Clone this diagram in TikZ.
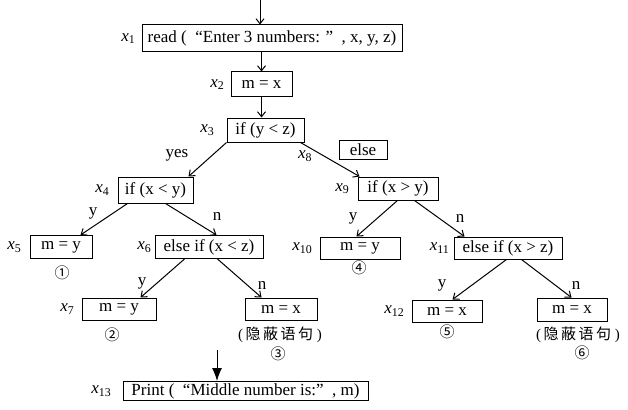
\documentclass[tikz,border=0pt]{standalone}
\usepackage{fontspec}
\setmainfont{Liberation Serif}
\newfontfamily\cjk{Noto Sans CJK SC}
\usetikzlibrary{arrows.meta}
\newcommand{\vx}[1]{\textit{x}\textsubscript{#1}}
\newcommand{\hid}{(\,{\cjk 隐\,蔽\,语\,句}\ )}
\tikzset{
  stmt/.style={draw, line width=1pt, inner sep=0pt, minimum height=22pt, font=\fontsize{17}{19}\selectfont},
  lbl/.style={font=\fontsize{17}{19}\selectfont, inner sep=0pt},
  num/.style={font=\cjk\fontsize{15}{17}\selectfont, inner sep=0pt},
  flow/.style={-{Straight Barb[length=5pt,width=8pt]}, line width=1pt},
  bigflow/.style={-{Latex[length=13pt,width=10pt]}, line width=1pt},
}
\begin{document}
\begin{tikzpicture}[x=1pt,y=-1pt]
\useasboundingbox (0,0) rectangle (628,409);
% statements
\node[stmt, minimum width=260pt, minimum height=27pt, label={[lbl,label distance=6pt]left:\vx{1}}] (x1) at (272,38.5) {read (\ \ “Enter 3 numbers: ”\ \ , x, y, z)};
\node[stmt, minimum width=61pt, minimum height=25pt, label={[lbl,label distance=6pt]left:\vx{2}}] (x2) at (261.5,84.5) {m = x};
\node[stmt, minimum width=77pt, minimum height=24pt, label={[lbl,label distance=12pt]left:\vx{3}}] (x3) at (265.5,130) {if (y < z)};
\node[stmt, minimum width=48pt, minimum height=19pt] (else) at (363,149.5) {else};
\node[stmt, minimum width=75pt, minimum height=26pt, label={[lbl,label distance=8pt]left:\vx{4}}] (x4) at (155.5,190) {if (x < y)};
\node[stmt, minimum width=62pt, minimum height=23pt, label={[lbl,label distance=8pt]left:\vx{5}}] (x5) at (61,247) {m = y};
\node[stmt, minimum width=108pt, minimum height=23pt, label={[lbl,label distance=3pt]left:\vx{6}}] (x6) at (209,247) {else if (x < z)};
\node[stmt, minimum width=74pt, label={[lbl,label distance=7pt]left:\vx{7}}] (x7) at (119,309) {m = y};
\node[stmt, minimum width=72pt] (x7b) at (281,309) {m = x};
\node[stmt, minimum width=80pt, minimum height=23pt, label={[lbl,label distance=8pt]left:\vx{9}}] (x9) at (398,188.5) {if (x > y)};
\node[stmt, minimum width=80pt, label={[lbl,label distance=7pt]left:\vx{10}}] (x10) at (360,248) {m = y};
\node[stmt, minimum width=108pt, label={[lbl,label distance=4pt]left:\vx{11}}] (x11) at (508,248) {else if (x > z)};
\node[stmt, minimum width=70pt, label={[lbl,label distance=7pt]left:\vx{12}}] (x12) at (447,311) {m = x};
\node[stmt, minimum width=70pt, minimum height=23pt] (x12b) at (572,309.5) {m = x};
\node[stmt, minimum width=245pt, minimum height=19pt, label={[lbl,label distance=11pt]left:\vx{13}}] (x13) at (245.5,391) {Print (\ \ “Middle number is:”\ \ , m)};
% branch labels
\node[lbl] (yes) at (177,155) {yes};
\node[lbl] (x8) at (305,156) {\vx{8}};
\node[lbl] (y4) at (93,213) {y};
\node[lbl] (n4) at (217,216) {n};
\node[lbl] (y6) at (142,283) {y};
\node[lbl] (n6) at (262,285) {n};
\node[lbl] (y9) at (353,218) {y};
\node[lbl] (n9) at (460,218) {n};
\node[lbl] (y11) at (442,285) {y};
\node[lbl] (n11) at (576,285) {n};
% path numbers
\node[num] (p1) at (62,273) {①};
\node[num] (p2) at (112,335) {②};
\node[num] (p3) at (278,354) {③};
\node[num] (p4) at (359,268) {④};
\node[num] (p5) at (447,332) {⑤};
\node[num] (p6) at (582,353) {⑥};
\node[lbl, font=\fontsize{15}{17}\selectfont] (h3) at (280,335) {\hid};
\node[lbl, font=\fontsize{15}{17}\selectfont] (h6) at (578,335) {\hid};
% connectors
\coordinate (top) at (260,0);
\coordinate (pin) at (217,350);
\draw[flow] (top) -- (top |- x1.north);
\draw[flow] (x2.north |- x1.south) -- (x2.north);
\draw[flow] (x2.south) -- (x2.south |- x3.north);
\draw[flow] (x3.south west) -- ([xshift=-5pt]x4.north east);
\draw[flow] ([xshift=-4pt]x3.south east) -- ([xshift=2pt]x9.north west);
\draw[flow] ([xshift=10pt]x4.south west) -- ([xshift=-12pt]x5.north east);
\draw[flow] ([xshift=-28pt]x4.south east) -- ([xshift=62pt]x6.north west);
\draw[flow] ([xshift=30pt]x6.south west) -- ([xshift=-16pt]x7.north east);
\draw[flow] ([xshift=63pt]x6.south west) -- ([xshift=17pt]x7b.north west);
\draw[flow] ([xshift=40pt]x9.south west) -- ([xshift=37pt]x10.north west);
\draw[flow] ([xshift=57pt]x9.south west) -- ([xshift=11pt]x11.north west);
\draw[flow] ([xshift=53pt]x11.south west) -- ([xshift=41pt]x12.north west);
\draw[flow] ([xshift=68pt]x11.south west) -- ([xshift=35pt]x12b.north west);
\draw[bigflow] (pin) -- (pin |- x13.north);
\end{tikzpicture}
\end{document}
